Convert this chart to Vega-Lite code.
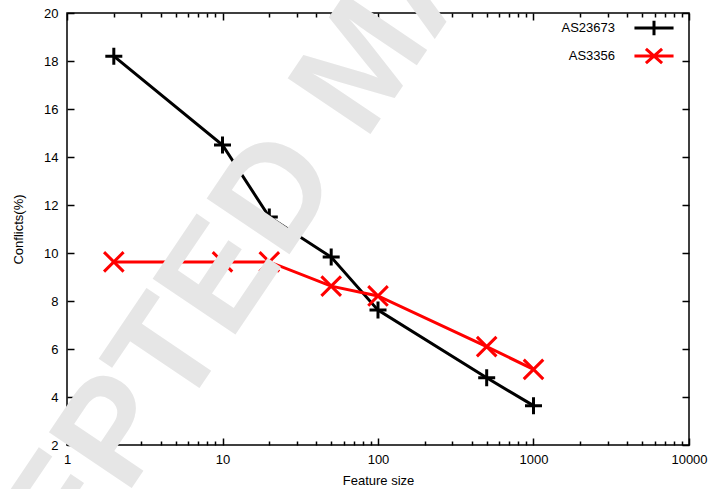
{
  "$schema": "https://vega.github.io/schema/vega-lite/v6.json",
  "width": 622,
  "height": 432,
  "autosize": {"type": "none"},
  "padding": {"left": 67, "top": 13, "right": 19, "bottom": 44},
  "background": "white",
  "config": {
    "view": {"stroke": "#000000", "strokeWidth": 1.5},
    "font": "Liberation Sans",
    "axis": {
      "labelFont": "Liberation Sans",
      "titleFont": "Liberation Sans",
      "labelFontSize": 13,
      "titleFontSize": 13,
      "labelColor": "#000000",
      "titleColor": "#000000",
      "titleFontWeight": "normal",
      "tickColor": "#000000",
      "tickWidth": 1.5,
      "domain": false,
      "grid": false,
      "labelOverlap": false,
      "labelBound": false,
      "labelFlush": false
    },
    "legend": {
      "padding": 0,
      "rowPadding": 0,
      "symbolSize": 289,
      "symbolStrokeWidth": 3,
      "labelFontSize": 13,
      "labelFont": "Liberation Sans",
      "labelColor": "#000000",
      "labelAlign": "right",
      "labelOffset": -49
    }
  },
  "datasets": {
    "series": [
      {"series": "AS23673", "size": 2, "conflicts": 18.2},
      {"series": "AS23673", "size": 10, "conflicts": 14.5},
      {"series": "AS23673", "size": 20, "conflicts": 11.5},
      {"series": "AS23673", "size": 50, "conflicts": 9.83},
      {"series": "AS23673", "size": 100, "conflicts": 7.62},
      {"series": "AS23673", "size": 500, "conflicts": 4.8},
      {"series": "AS23673", "size": 1000, "conflicts": 3.64},
      {"series": "AS3356", "size": 2, "conflicts": 9.63},
      {"series": "AS3356", "size": 10, "conflicts": 9.63},
      {"series": "AS3356", "size": 20, "conflicts": 9.63},
      {"series": "AS3356", "size": 50, "conflicts": 8.62},
      {"series": "AS3356", "size": 100, "conflicts": 8.21},
      {"series": "AS3356", "size": 500, "conflicts": 6.1},
      {"series": "AS3356", "size": 1000, "conflicts": 5.15}
    ]
  },
  "resolve": {"axis": {"x": "independent", "y": "independent"}},
  "layer": [
    {
      "data": {"name": "series"},
      "mark": {"type": "line", "strokeWidth": 3},
      "encoding": {
        "x": {
          "field": "size",
          "type": "quantitative",
          "scale": {"type": "log", "domain": [1, 10000], "nice": false},
          "axis": {
            "orient": "bottom",
            "title": "Feature size",
            "titleY": 35,
            "titleBaseline": "middle",
            "values": [1,2,3,4,5,6,7,8,9,10,20,30,40,50,60,70,80,90,100,200,300,400,500,600,700,800,900,1000,2000,3000,4000,5000,6000,7000,8000,9000,10000],
            "format": "d",
            "labelExpr": "indexof([1,10,100,1000,10000], datum.value) >= 0 ? datum.label : ''",
            "tickSize": {"condition": {"test": "indexof([1,10,100,1000,10000], datum.value) >= 0", "value": -7}, "value": -4},
            "labelPadding": 15
          }
        },
        "y": {
          "field": "conflicts",
          "type": "quantitative",
          "scale": {"domain": [2, 20], "nice": false, "zero": false},
          "axis": {
            "orient": "left",
            "title": "Conflicts(%)",
            "titleX": -49,
            "titleBaseline": "middle",
            "values": [2,4,6,8,10,12,14,16,18,20],
            "tickSize": -7,
            "labelPadding": 16
          }
        },
        "color": {
          "field": "series",
          "type": "nominal",
          "scale": {"domain": ["AS23673", "AS3356"], "range": ["#000000", "#ff0000"]}
        }
      }
    },
    {
      "data": {"name": "series"},
      "transform": [{"filter": "datum.series === 'AS23673'"}],
      "mark": {"type": "point", "filled": false, "strokeWidth": 3, "size": 289, "opacity": 1, "shape": "M-1,0H1M0,-1V1"},
      "encoding": {
        "x": {"field": "size", "type": "quantitative", "axis": null},
        "y": {"field": "conflicts", "type": "quantitative", "axis": null},
        "color": {"field": "series", "type": "nominal"}
      }
    },
    {
      "data": {"name": "series"},
      "transform": [{"filter": "datum.series === 'AS3356'"}],
      "mark": {"type": "point", "filled": false, "strokeWidth": 3, "size": 289, "opacity": 1, "shape": "M-1.15,-1.15L1.15,1.15M-1.15,1.15L1.15,-1.15"},
      "encoding": {
        "x": {"field": "size", "type": "quantitative", "axis": null},
        "y": {"field": "conflicts", "type": "quantitative", "axis": null},
        "color": {"field": "series", "type": "nominal"}
      }
    },
    {
      "data": {"name": "series"},
      "transform": [{"filter": "false"}],
      "mark": {"type": "point", "filled": false, "strokeWidth": 3, "size": 289, "opacity": 1},
      "encoding": {
        "x": {
          "field": "size",
          "type": "quantitative",
          "axis": {
            "orient": "top",
            "title": null,
            "labels": false,
            "values": [1,2,3,4,5,6,7,8,9,10,20,30,40,50,60,70,80,90,100,200,300,400,500,600,700,800,900,1000,2000,3000,4000,5000,6000,7000,8000,9000,10000],
            "tickSize": {"condition": {"test": "indexof([1,10,100,1000,10000], datum.value) >= 0", "value": -7}, "value": -4}
          }
        },
        "y": {
          "field": "conflicts",
          "type": "quantitative",
          "axis": {
            "orient": "right",
            "title": null,
            "labels": false,
            "values": [2,4,6,8,10,12,14,16,18,20],
            "tickSize": -7
          }
        },
        "color": {
          "field": "series",
          "type": "nominal",
          "legend": {"title": null, "orient": "none", "legendX": 577, "legendY": 5}
        },
        "shape": {
          "field": "series",
          "type": "nominal",
          "scale": {"domain": ["AS23673", "AS3356"], "range": ["M-2.3,0H2.3M0,-0.85V0.85", "M-2.3,0H2.3M-0.95,-0.85L0.95,0.85M-0.95,0.85L0.95,-0.85"]},
          "legend": {"title": null, "orient": "none", "legendX": 577, "legendY": 5}
        }
      }
    },
    {
      "data": {"values": [{}]},
      "mark": {
        "type": "text",
        "text": "ACCEPTED MANUSCRIPT",
        "angle": 304,
        "font": "Liberation Sans",
        "fontWeight": "bold",
        "fontSize": 145,
        "color": "#e6e6e6",
        "align": "left",
        "baseline": "alphabetic"
      },
      "encoding": {
        "x": {"datum": 0.0802, "type": "quantitative", "axis": null},
        "y": {"datum": -14.32, "type": "quantitative", "axis": null}
      }
    }
  ]
}
